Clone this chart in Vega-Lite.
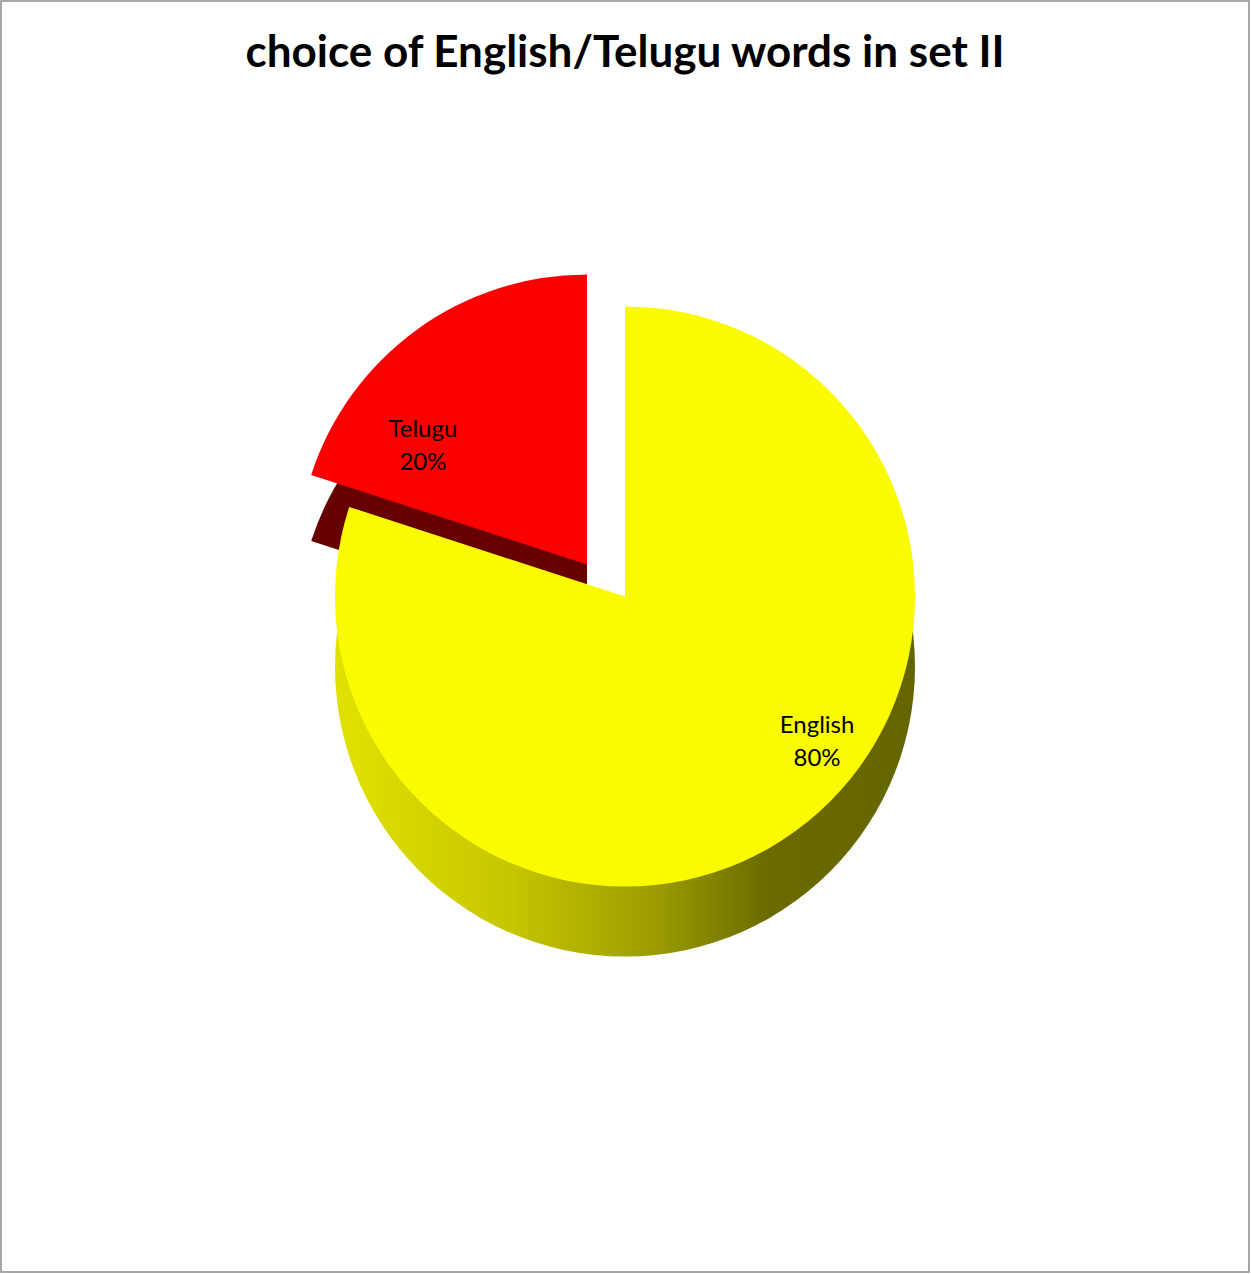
{
  "$schema": "https://vega.github.io/schema/vega-lite/v6.json",
  "width": 1248,
  "height": 1271,
  "autosize": "none",
  "padding": {"left": 1, "top": 1, "right": 2, "bottom": 2},
  "background": "white",
  "view": {"stroke": "#8c8c8c", "strokeWidth": 1.5, "fill": "white"},
  "title": {
    "text": "choice of English/Telugu words in set II",
    "font": "Lato",
    "fontSize": 44,
    "fontWeight": "bold",
    "color": "black",
    "anchor": "middle",
    "offset": -75
  },
  "data": {"values": [
    {"lang": "English", "value": 80},
    {"lang": "Telugu", "value": 20}
  ]},
  "transform": [{"calculate": "datum.lang + '\\n' + datum.value + '%'", "as": "label"}],
  "encoding": {
    "theta": {"field": "value", "type": "quantitative", "stack": true},
    "order": {"field": "lang", "sort": "ascending"}
  },
  "layer": [
    {
      "mark": {"type": "arc", "radius": 290, "fill": "#660000", "xOffset": -38, "yOffset": -6},
      "encoding": {"fillOpacity": {"condition": {"test": "datum.lang === 'Telugu'", "value": 1}, "value": 0}}
    },
    {
      "mark": {"type": "arc", "radius": 290, "yOffset": 30,
        "fill": {"gradient": "linear", "x1": 0, "y1": 0, "x2": 1, "y2": 0,
          "stops": [
            {"offset": 0, "color": "#e2e200"},
            {"offset": 0.3, "color": "#c6c600"},
            {"offset": 0.55, "color": "#9c9c00"},
            {"offset": 0.75, "color": "#6a6a00"},
            {"offset": 1, "color": "#656500"}
          ]}},
      "encoding": {"fillOpacity": {"condition": {"test": "datum.lang === 'English'", "value": 1}, "value": 0}}
    },
    {
      "mark": {"type": "arc", "radius": 290, "fill": "#fa0000", "xOffset": -38, "yOffset": -72},
      "encoding": {"fillOpacity": {"condition": {"test": "datum.lang === 'Telugu'", "value": 1}, "value": 0}}
    },
    {
      "mark": {"type": "arc", "radius": 290, "fill": "#fafa00", "yOffset": -40},
      "encoding": {"fillOpacity": {"condition": {"test": "datum.lang === 'English'", "value": 1}, "value": 0}}
    },
    {
      "mark": {"type": "text", "radius": 206, "font": "Lato", "fontSize": 24, "lineBreak": "\n", "lineHeight": 33, "color": "black", "xOffset": -81, "yOffset": -40},
      "encoding": {
        "text": {"field": "label"},
        "opacity": {"condition": {"test": "datum.lang === 'Telugu'", "value": 1}, "value": 0}
      }
    },
    {
      "mark": {"type": "text", "radius": 160, "font": "Lato", "fontSize": 24, "lineBreak": "\n", "lineHeight": 33, "color": "black", "xOffset": 98, "yOffset": -40},
      "encoding": {
        "text": {"field": "label"},
        "opacity": {"condition": {"test": "datum.lang === 'English'", "value": 1}, "value": 0}
      }
    }
  ]
}
